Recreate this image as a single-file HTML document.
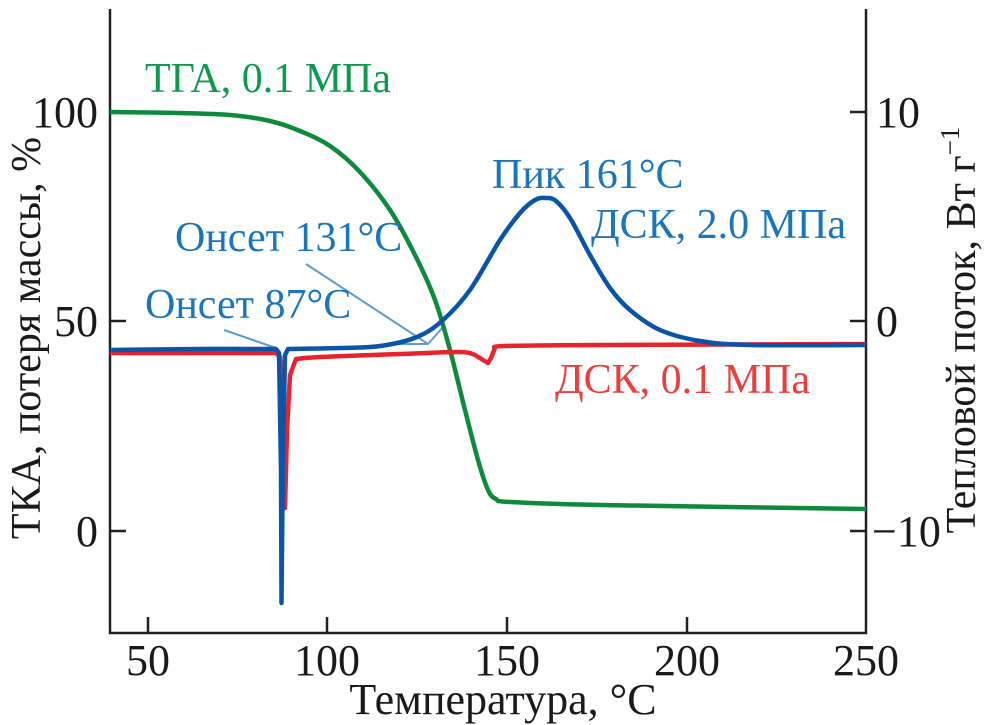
<!DOCTYPE html>
<html><head><meta charset="utf-8"><style>
html,body{margin:0;padding:0;background:#fff;}
svg{display:block;}
text{font-family:"Liberation Serif",serif;}
</style></head><body>
<svg width="989" height="725" viewBox="0 0 989 725" xmlns="http://www.w3.org/2000/svg">
<g stroke="#222" stroke-width="2.5" fill="none">
<path d="M110,9 V633 H866 V9"/>
<path d="M110,112 h16 M110,321 h16 M110,531 h16"/>
<path d="M866,112 h-16 M866,321 h-16 M866,531 h-16"/>
<path d="M148,633 v-16 M327,633 v-16 M507,633 v-16 M687,633 v-16"/>
</g>
<g font-size="44" fill="#1a1a1a">
<text x="98" y="127" text-anchor="end">100</text>
<text x="98" y="336" text-anchor="end">50</text>
<text x="98" y="546" text-anchor="end">0</text>
<text x="876" y="127">10</text>
<text x="876" y="336">0</text>
<text x="872" y="546">−10</text>
<text x="148" y="675" text-anchor="middle">50</text>
<text x="327" y="675" text-anchor="middle">100</text>
<text x="507" y="675" text-anchor="middle">150</text>
<text x="687" y="675" text-anchor="middle">200</text>
<text x="866" y="675" text-anchor="middle">250</text>
<text x="503" y="714" text-anchor="middle">Температура, °C</text>
<text transform="translate(40,338) rotate(-90)" text-anchor="middle" font-size="42">ТКА, потеря массы, %</text>
<text transform="translate(975,330) rotate(-90)" text-anchor="middle" font-size="42">Тепловой поток, Вт г<tspan dy="-16" font-size="27">−1</tspan></text>
</g>
<g stroke="#5b9bd5" stroke-width="2" fill="none">
<path d="M224,330 L276,348"/>
<path d="M306,264 L428,344 L444,326 M393,344 H428"/>
</g>
<path id="g" stroke="#0d8a3c" stroke-width="4.5" fill="none" stroke-linejoin="round"/>
<path id="r" stroke="#e8232e" stroke-width="4.5" fill="none" stroke-linejoin="round"/>
<path id="b" stroke="#0b55a8" stroke-width="4.5" fill="none" stroke-linejoin="round"/>
<g font-size="42">
<text x="145" y="92" fill="#0d9a4c">ТГА, 0.1 МПа</text>
<text x="492" y="188" fill="#1a75bc">Пик 161°C</text>
<text x="591" y="238" fill="#1a75bc">ДСК, 2.0 МПа</text>
<text x="175" y="251" fill="#1a75bc">Онсет 131°C</text>
<text x="145" y="318" fill="#1a75bc">Онсет 87°C</text>
<text x="555" y="393" fill="#ee3b3b">ДСК, 0.1 МПа</text>
</g>
</svg>
<script>
function cr(p,first){var d=(first?"M":"L")+p[0][0]+","+p[0][1];for(var i=0;i<p.length-1;i++){var p0=p[i-1]||p[i],p1=p[i],p2=p[i+1],p3=p[i+2]||p2;
var c1=[p1[0]+(p2[0]-p0[0])/6,p1[1]+(p2[1]-p0[1])/6],c2=[p2[0]-(p3[0]-p1[0])/6,p2[1]-(p3[1]-p1[1])/6];
d+=" C"+c1[0].toFixed(1)+","+c1[1].toFixed(1)+" "+c2[0].toFixed(1)+","+c2[1].toFixed(1)+" "+p2[0]+","+p2[1];}return d;}
function ln(p){return p.map(function(q){return " L"+q[0]+","+q[1];}).join("");}
document.getElementById("g").setAttribute("d",cr([[110,112],[180,113],[230,115],[270,121],[300,131],[330,146],[360,172],[390,210],[415,255],[435,300],[450,350],[465,410],[478,460],[488,490],[496,499],[510,502],[600,505],[866,509]],1));
document.getElementById("r").setAttribute("d",cr([[110,353],[200,353],[276,353]],1)+ln([[280,357],[283,420],[285,508],[287,430],[290,375],[296,359]])+cr([[296,359],[320,357],[400,354],[460,352],[475,355]])+ln([[483,360],[488,363],[491,358],[495,348]])+cr([[495,348],[505,346],[600,345],[866,344]]));
document.getElementById("b").setAttribute("d",cr([[110,350],[200,349],[276,349]],1)+ln([[279,353],[281,470],[281.5,603],[283,450],[285,355],[288,349]])+cr([[288,349],[340,348],[380,346],[417,337],[443,320],[470,290],[500,240],[520,213],[535,200],[546,198],[556,201],[570,218],[590,255],[610,288],[630,310],[660,330],[700,341],[750,345],[866,345]]));
</script>
</body></html>
